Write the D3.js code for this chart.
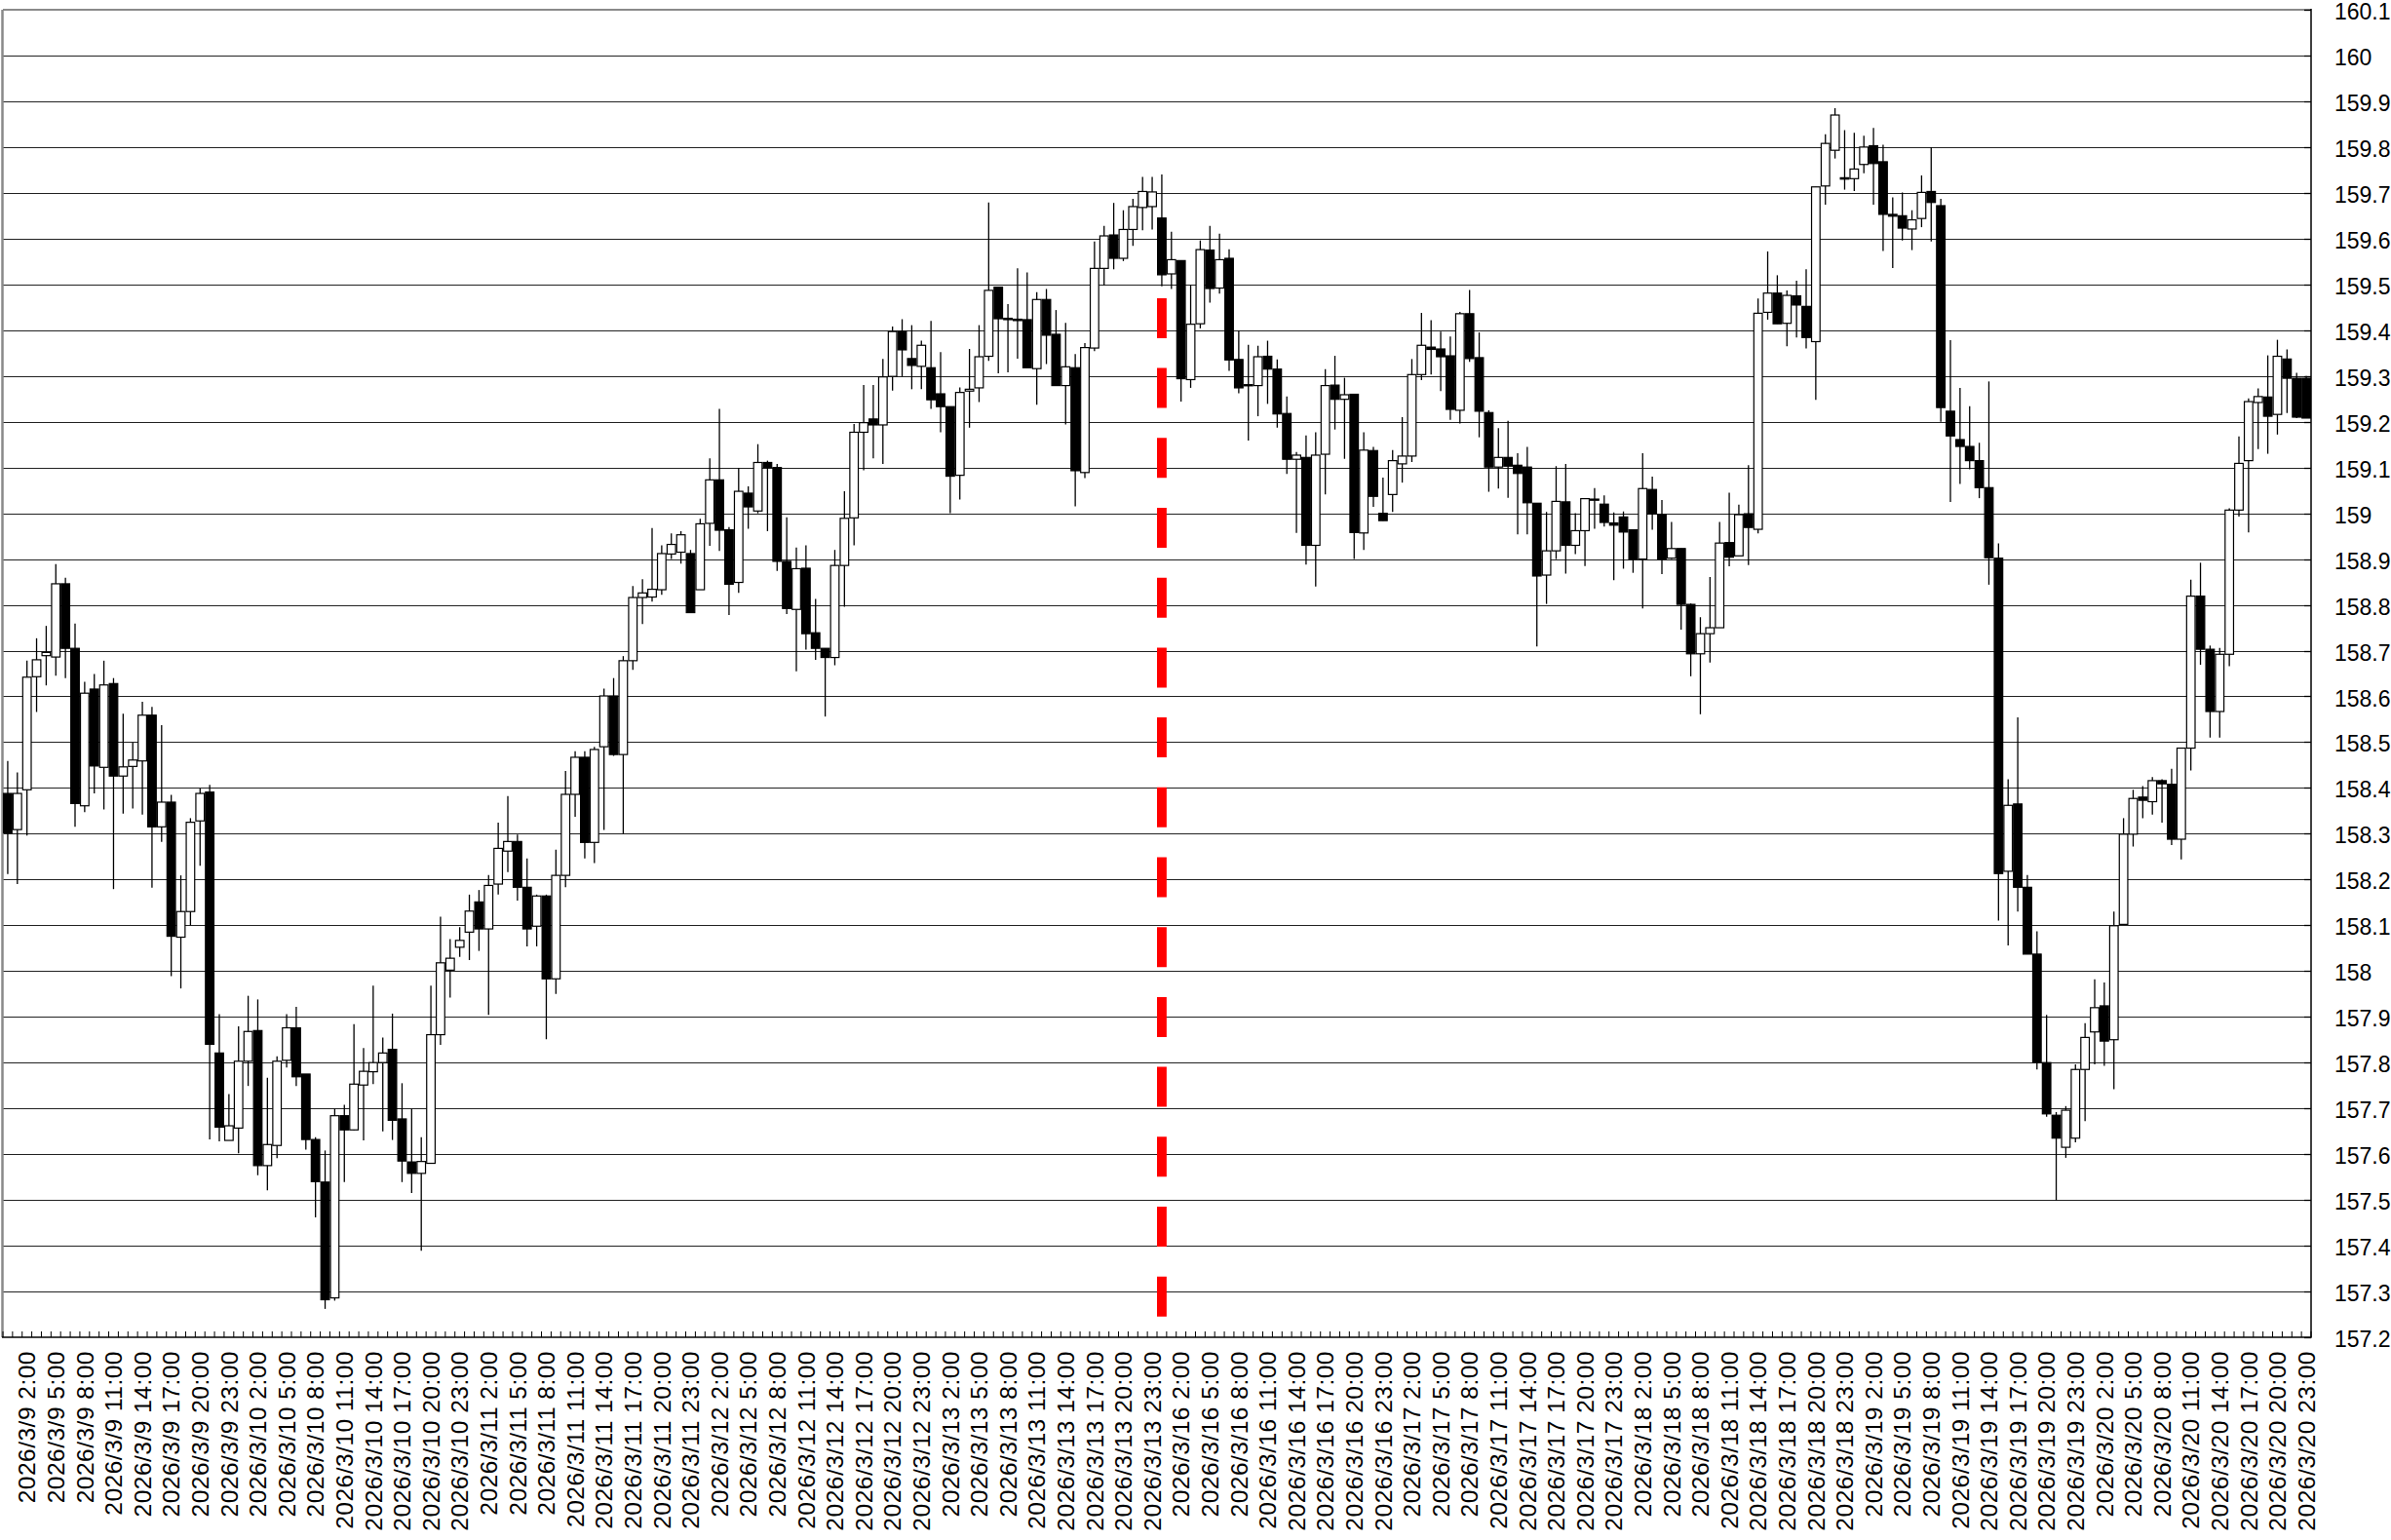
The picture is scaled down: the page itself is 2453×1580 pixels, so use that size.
<!DOCTYPE html>
<html><head><meta charset="utf-8">
<script src="https://cdn.jsdelivr.net/npm/d3@7"></script>
<style>body{margin:0;background:#fff;overflow:hidden}</style>
</head><body><svg id="c" width="2453" height="1580"></svg>
<script>
// ---- data ----
const days = ["3/9","3/10","3/11","3/12","3/13","3/16","3/17","3/18","3/19","3/20"];
const hours = [0,1,2,3,4,5,6,7,8,9,10,11,12,13,14,15,16,17,18,19,20,21,22,23];
const labelHours = [2,5,8,11,14,17,20,23];
const priceTicks = [157.2,157.3,157.4,157.5,157.6,157.7,157.8,157.9,158.0,158.1,158.2,158.3,158.4,158.5,158.6,158.7,158.8,158.9,159.0,159.1,159.2,159.3,159.4,159.5,159.6,159.7,159.8,159.9,160.0,160.1];
const weekStartIndex = 120;   // 2026/3/16 0:00
const markerTop = 159.47;

const open = [
158.388,158.309,158.396,158.643,158.689,158.686,158.846,158.705,158.361,158.616,
158.445,158.628,158.426,158.447,158.459,158.559,158.315,158.369,158.074,158.130,
158.328,158.391,157.821,157.630,157.657,157.803,157.870,157.575,157.619,157.805,
157.876,157.775,157.632,157.539,157.286,157.684,157.653,157.751,157.780,157.800,
157.829,157.677,157.583,157.558,157.580,157.861,158.002,158.052,158.085,158.151,
158.092,158.190,158.262,158.283,158.183,158.098,158.164,157.983,158.209,158.386,
158.467,158.281,158.490,158.601,158.473,158.678,158.816,158.817,158.833,158.911,
158.915,158.912,158.833,158.978,159.073,158.964,158.849,159.044,159.005,159.111,
159.100,158.895,158.790,158.880,158.739,158.705,158.685,158.886,158.990,159.177,
159.206,159.193,159.299,159.397,159.338,159.321,159.318,159.261,159.233,159.083,
159.267,159.274,159.343,159.494,159.426,159.424,159.423,159.316,159.467,159.391,
159.279,159.318,159.089,159.361,159.535,159.608,159.557,159.620,159.668,159.670,
159.645,159.523,159.552,159.292,159.414,159.575,159.492,159.557,159.336,159.280,
159.279,159.343,159.315,159.218,159.118,159.122,158.930,159.129,159.280,159.249,
159.260,158.957,159.137,159.000,159.041,159.108,159.125,159.303,159.363,159.359,
159.344,159.225,159.436,159.340,159.220,159.101,159.122,159.105,159.101,159.022,
158.865,158.918,159.025,158.930,158.962,159.030,159.020,158.979,158.992,158.964,
158.900,159.052,158.997,158.902,158.923,158.801,158.693,158.737,158.750,158.936,
158.907,158.999,158.965,159.439,159.481,159.415,159.475,159.452,159.375,159.715,
159.793,159.733,159.731,159.762,159.803,159.768,159.653,159.650,159.621,159.644,
159.703,159.672,159.223,159.161,159.146,159.115,159.056,158.902,158.218,158.365,
158.183,158.037,157.800,157.685,157.615,157.635,157.785,157.867,157.924,157.850,
158.102,158.299,158.380,158.370,158.416,158.408,158.288,158.487,158.819,158.703,
158.567,158.692,159.007,159.115,159.242,159.254,159.216,159.337,159.295,159.295];

const high = [
158.459,158.434,158.678,158.727,158.754,158.889,158.859,158.759,158.632,158.649,
158.678,158.640,158.562,158.499,158.588,158.577,158.537,158.385,158.209,158.334,
158.399,158.407,157.906,157.731,157.879,157.946,157.938,157.767,157.814,157.906,
157.922,157.775,157.637,157.608,157.699,157.708,157.884,157.832,157.968,157.855,
157.907,157.755,157.699,157.637,157.968,158.119,158.070,158.096,158.167,158.177,
158.210,158.324,158.382,158.298,158.246,158.167,158.167,158.265,158.437,158.480,
158.480,158.490,158.617,158.640,158.688,158.841,158.856,158.968,158.930,158.956,
158.961,158.920,158.988,159.120,159.228,158.970,159.099,159.059,159.151,159.115,
159.108,158.991,158.925,158.930,158.813,158.705,158.920,159.048,159.195,159.280,
159.280,159.337,159.408,159.424,159.411,159.377,159.420,159.352,159.233,159.275,
159.359,159.411,159.679,159.494,159.457,159.535,159.526,159.483,159.490,159.444,
159.416,159.348,159.372,159.594,159.628,159.678,159.662,159.687,159.735,159.735,
159.740,159.615,159.552,159.498,159.596,159.628,159.611,159.577,159.399,159.368,
159.366,159.377,159.336,159.255,159.134,159.170,159.177,159.315,159.344,159.296,
159.260,159.177,159.145,159.078,159.138,159.210,159.337,159.438,159.422,159.397,
159.386,159.440,159.488,159.395,159.225,159.186,159.202,159.131,159.145,159.022,
159.003,159.103,159.108,159.000,159.032,159.055,159.039,159.002,159.004,158.964,
159.131,159.080,159.029,158.981,158.923,158.803,158.773,158.861,158.981,159.045,
159.019,159.105,159.469,159.572,159.520,159.487,159.508,159.533,159.713,159.828,
159.885,159.837,159.831,159.825,159.842,159.805,159.690,159.701,159.662,159.738,
159.800,159.687,159.378,159.274,159.234,159.154,159.288,158.934,158.419,158.554,
158.210,158.087,157.904,157.692,157.705,157.796,157.886,157.982,157.975,158.130,
158.334,158.396,158.404,158.424,158.419,158.442,158.487,158.855,158.892,158.711,
158.706,159.011,159.168,159.251,159.273,159.345,159.379,159.358,159.307,159.300];

const low = [
158.212,158.190,158.296,158.566,158.624,158.645,158.640,158.315,158.347,158.388,
158.353,158.179,158.344,158.355,158.342,158.182,158.282,157.989,157.962,158.100,
158.230,157.632,157.628,157.630,157.602,157.749,157.554,157.521,157.591,157.789,
157.749,157.610,157.462,157.262,157.280,157.539,157.652,157.630,157.753,157.650,
157.631,157.539,157.515,157.389,157.580,157.839,157.942,158.031,158.024,158.044,
157.904,158.167,158.216,158.154,158.054,158.054,157.851,157.950,158.183,158.337,
158.246,158.236,158.308,158.470,158.300,158.658,158.758,158.807,158.822,158.900,
158.890,158.783,158.833,158.929,158.918,158.778,158.826,158.966,159.000,158.961,
158.874,158.780,158.655,158.702,158.680,158.556,158.668,158.796,158.930,159.094,
159.120,159.108,159.268,159.299,159.271,159.271,159.228,159.177,159.000,159.030,
159.187,159.243,159.333,159.306,159.308,159.338,159.318,159.237,159.326,159.279,
159.194,159.015,159.077,159.354,159.498,159.533,159.551,159.584,159.618,159.620,
159.496,159.490,159.244,159.274,159.404,159.460,159.480,159.311,159.262,159.159,
159.212,159.239,159.187,159.086,158.957,158.888,158.840,159.041,159.183,159.119,
158.900,158.920,159.014,158.984,159.003,159.067,159.112,159.291,159.303,159.267,
159.204,159.196,159.331,159.166,159.047,159.054,159.034,158.954,158.954,158.709,
158.802,158.900,158.868,158.911,158.885,158.966,158.971,158.854,158.879,158.870,
158.792,158.964,158.867,158.900,158.746,158.644,158.561,158.674,158.750,158.884,
158.907,158.887,158.956,159.423,159.414,159.365,159.384,159.360,159.248,159.674,
159.775,159.707,159.704,159.743,159.674,159.573,159.536,159.596,159.575,159.625,
159.594,159.200,159.025,159.064,159.096,159.033,158.844,158.110,158.056,158.130,
158.037,157.785,157.682,157.499,157.592,157.626,157.672,157.796,157.793,157.742,
158.102,158.272,158.334,158.342,158.324,158.275,158.244,158.438,158.669,158.510,
158.510,158.666,158.993,158.958,159.140,159.130,159.172,159.219,159.208,159.208];

const close = [
158.302,158.388,158.642,158.680,158.696,158.846,158.705,158.366,158.607,158.448,
158.625,158.426,158.446,158.461,158.559,158.315,158.369,158.076,158.130,158.325,
158.388,157.840,157.659,157.662,157.803,157.868,157.575,157.621,157.803,157.876,
157.769,157.632,157.540,157.282,157.684,157.653,157.753,157.781,157.800,157.821,
157.674,157.585,157.558,157.584,157.861,158.018,158.028,158.067,158.131,158.092,
158.187,158.268,158.283,158.183,158.092,158.164,157.983,158.209,158.386,158.467,
158.281,158.484,158.601,158.473,158.678,158.816,158.826,158.834,158.912,158.932,
158.953,158.783,158.977,159.073,158.963,158.845,159.048,159.014,159.111,159.100,
158.895,158.792,158.879,158.737,158.705,158.685,158.886,158.989,159.177,159.198,
159.193,159.298,159.397,159.357,159.323,159.367,159.248,159.233,159.081,159.264,
159.271,159.342,159.487,159.425,159.423,159.421,159.318,159.467,159.389,159.279,
159.320,159.093,159.362,159.535,159.606,159.557,159.620,159.670,159.703,159.702,
159.521,159.554,159.294,159.413,159.576,159.491,159.554,159.335,159.274,159.281,
159.342,159.315,159.217,159.118,159.127,158.930,159.127,159.279,159.249,159.259,
158.958,159.138,159.037,158.984,159.115,159.125,159.303,159.367,159.358,159.342,
159.227,159.436,159.338,159.223,159.101,159.122,159.103,159.087,159.023,158.863,
158.918,159.026,158.930,158.962,159.032,159.031,158.980,158.974,158.959,158.900,
159.054,158.999,158.900,158.923,158.801,158.693,158.737,158.750,158.935,158.904,
158.997,158.969,159.437,159.481,159.414,159.476,159.455,159.384,159.713,159.808,
159.870,159.730,159.752,159.800,159.764,159.653,159.649,159.623,159.641,159.701,
159.679,159.231,159.169,159.146,159.115,159.056,158.903,158.213,158.362,158.183,
158.037,157.800,157.688,157.635,157.696,157.785,157.855,157.920,157.847,158.099,
158.299,158.377,158.373,158.416,158.409,158.288,158.487,158.819,158.703,158.567,
158.692,159.007,159.109,159.244,159.255,159.212,159.343,159.295,159.210,159.208];

// ---- build ----
const categories = days.flatMap(d => hours.map(h => ({label:`2026/${d} ${h}:00`, hour:h})));
const candles = categories.map((c,i) => ({i, label:c.label, hour:c.hour, o:open[i], h:high[i], l:low[i], c:close[i]}));

const L = 3, R = 2371, T = 10, B = 1372;
const svg = d3.select("#c");
const x = d3.scaleBand().domain(d3.range(candles.length)).range([L, R]).padding(0);
const y = d3.scaleLinear().domain([157.2, 160.1]).range([B, T]);
const bw = x.bandwidth();

// gridlines
svg.append("g").selectAll("line").data(priceTicks.filter(v => v < 160.05 && v > 157.25)).join("line")
  .attr("x1", L).attr("x2", R).attr("y1", d => Math.round(y(d)) + 0.5).attr("y2", d => Math.round(y(d)) + 0.5)
  .attr("stroke", "#222").attr("stroke-width", 1);

// frame: top & left gray
svg.append("line").attr("x1", L).attr("x2", R).attr("y1", y(160.1)).attr("y2", y(160.1))
  .attr("stroke", "#8a8a8a").attr("stroke-width", 2);
svg.append("line").attr("x1", L - 0.5).attr("x2", L - 0.5).attr("y1", T).attr("y2", B)
  .attr("stroke", "#8a8a8a").attr("stroke-width", 2.5);

// week-start marker
const mx = x(weekStartIndex) + bw / 2;
svg.append("line").attr("x1", mx).attr("x2", mx).attr("y1", y(markerTop)).attr("y2", B)
  .attr("stroke", "#ff0000").attr("stroke-width", bw).attr("stroke-dasharray", "41 30.7");

// wicks
svg.append("g").selectAll("line").data(candles).join("line")
  .attr("x1", d => x(d.i) + bw / 2).attr("x2", d => x(d.i) + bw / 2)
  .attr("y1", d => y(d.h)).attr("y2", d => y(d.l))
  .attr("stroke", "#000").attr("stroke-width", 1.3);

// bodies
svg.append("g").selectAll("rect").data(candles).join("rect")
  .attr("x", d => x(d.i) + 0.6).attr("width", bw - 1.2)
  .attr("y", d => y(Math.max(d.o, d.c)))
  .attr("height", d => Math.max(1.2, Math.abs(y(d.o) - y(d.c))))
  .attr("fill", d => d.c >= d.o ? "#fff" : "#000")
  .attr("stroke", "#000").attr("stroke-width", 1.2);

// bottom axis
svg.append("line").attr("x1", L - 1).attr("x2", R).attr("y1", B).attr("y2", B).attr("stroke", "#000").attr("stroke-width", 1.5);
svg.append("g").selectAll("line").data(d3.range(candles.length + 1)).join("line")
  .attr("x1", d => L + d * bw).attr("x2", d => L + d * bw).attr("y1", B).attr("y2", B - 6)
  .attr("stroke", "#000").attr("stroke-width", 1);

// right axis
svg.append("line").attr("x1", R).attr("x2", R).attr("y1", T - 1).attr("y2", B + 0.75).attr("stroke", "#000").attr("stroke-width", 1.5);
svg.append("g").selectAll("line").data(priceTicks).join("line")
  .attr("x1", R - 7).attr("x2", R).attr("y1", d => Math.round(y(d)) + 0.5).attr("y2", d => Math.round(y(d)) + 0.5)
  .attr("stroke", "#000").attr("stroke-width", 1.3);

svg.append("g").selectAll("text").data(priceTicks).join("text")
  .attr("x", 2395).attr("y", d => y(d) + 2).attr("dy", "0.35em")
  .attr("font-family", "'Liberation Sans', Arial, sans-serif").attr("font-size", 23).attr("fill", "#000")
  .text(d => String(+d.toFixed(1)));

// category labels
const lab = candles.filter(d => labelHours.includes(d.hour));
svg.append("g").selectAll("text").data(lab).join("text")
  .attr("transform", d => `translate(${x(d.i) + bw / 2},1386) rotate(-90)`)
  .attr("text-anchor", "end").attr("dy", "0.36em")
  .attr("font-family", "'Liberation Sans', Arial, sans-serif").attr("font-size", 24.5)
  .attr("letter-spacing", "0.5px").attr("fill", "#000")
  .text(d => d.label);
</script></body></html>
